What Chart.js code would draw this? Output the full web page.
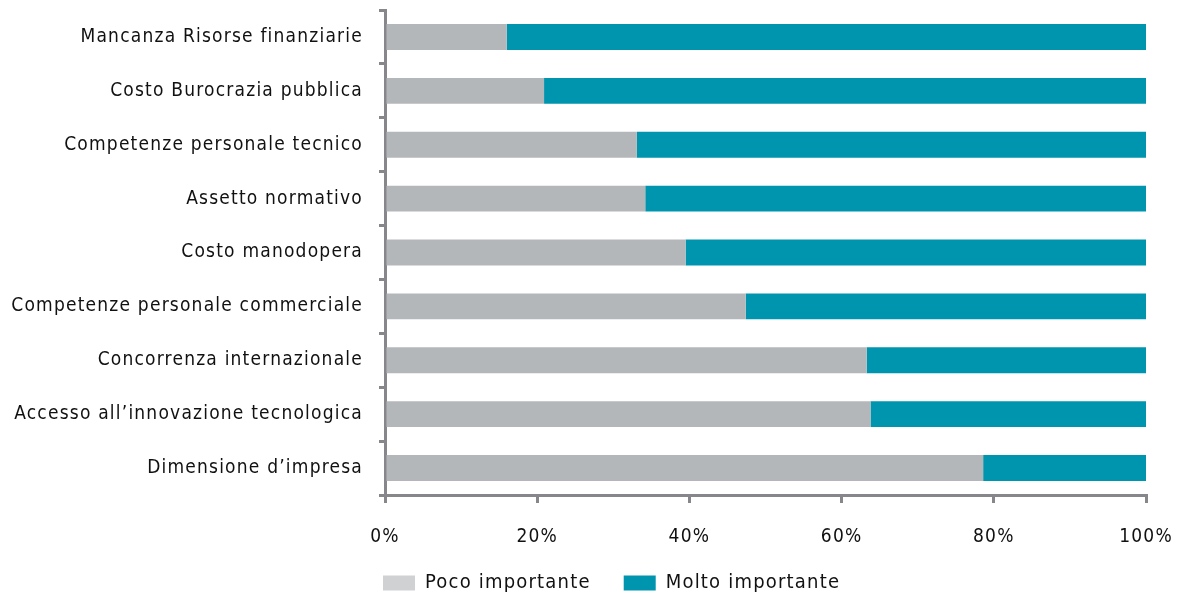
<!DOCTYPE html>
<html>
<head>
<meta charset="utf-8">
<script src="https://cdn.jsdelivr.net/npm/chart.js@4"></script>
<style>
  html, body { margin: 0; padding: 0; background: #ffffff; }
  #wrap { width: 1181px; height: 600px; position: relative; }
</style>
</head>
<body>
<div id="wrap"><canvas id="chart"></canvas></div>
<script>
// Fattori di ostacolo: quota di imprese che li giudicano poco o molto importanti (%)
const categories = [
  "Mancanza Risorse finanziarie",
  "Costo Burocrazia pubblica",
  "Competenze personale tecnico",
  "Assetto normativo",
  "Costo manodopera",
  "Competenze personale commerciale",
  "Concorrenza internazionale",
  "Accesso all\u2019innovazione tecnologica",
  "Dimensione d\u2019impresa"
];
const pocoImportante  = [16.0, 20.9, 33.1, 34.2, 39.5, 47.4, 63.3, 63.8, 78.6];
const moltoImportante = [84.0, 79.1, 66.9, 65.8, 60.5, 52.6, 36.7, 36.2, 21.4];
const xTicks = [0, 20, 40, 60, 80, 100];

const AXIS = '#86868b';
const FAMILY = "'DejaVu Sans Condensed', 'DejaVu Sans', sans-serif";
const FONT = { family: FAMILY, size: 19 };
const LEGEND_FONT = { family: FAMILY, size: 20 };

// wide tracking for all canvas text
const tracking = {
  id: 'tracking',
  beforeLayout(chart) { chart.ctx.letterSpacing = '1.2px'; },
  beforeDraw(chart) { chart.ctx.letterSpacing = '1.2px'; }
};

// legend row: starts under the value axis origin, sits 88px below the plot
const legendShift = {
  id: 'legendShift',
  afterLayout(chart) {
    const lg = chart.legend;
    const w = lg.right - lg.left;
    const h = lg.bottom - lg.top;
    lg.left = chart.chartArea.left - 35;
    lg.right = lg.left + w;
    lg.top = chart.chartArea.bottom + 88 - 33 - 10;
    lg.bottom = lg.top + h;
  }
};

new Chart(document.getElementById('chart'), {
  type: 'bar',
  data: {
    labels: categories,
    datasets: [
      { label: 'Poco importante', data: pocoImportante, backgroundColor: '#b4b7ba', borderWidth: 0 },
      { label: 'Molto importante', data: moltoImportante, backgroundColor: '#0095ae', borderWidth: 0 }
    ]
  },
  options: {
    indexAxis: 'y',
    responsive: true,
    maintainAspectRatio: false,
    animation: false,
    layout: { padding: { top: 10, right: 35, bottom: -15, left: 0 } },
    datasets: { bar: { categoryPercentage: 0.96, barPercentage: 0.5 } },
    scales: {
      x: {
        stacked: true,
        min: 0, max: 100,
        afterBuildTicks(axis) { axis.ticks = xTicks.map(v => ({ value: v })); },
        afterFit(axis) { axis.height = 57; axis.paddingLeft = 0; axis.paddingRight = 0; },
        ticks: { callback: v => v + '%', color: '#111', font: FONT, padding: 23, maxRotation: 0 },
        grid: { drawOnChartArea: false, drawTicks: true, tickLength: 8, color: AXIS, lineWidth: 3 },
        border: { display: true, color: AXIS, width: 3 }
      },
      y: {
        stacked: true,
        afterFit(axis) { axis.width = 385; axis.paddingTop = 0; axis.paddingBottom = 0; },
        ticks: { color: '#111', font: FONT, padding: 16 },
        grid: { drawOnChartArea: false, drawTicks: true, tickLength: 6, color: AXIS, lineWidth: 3, offset: true },
        border: { display: true, color: AXIS, width: 3 }
      }
    },
    plugins: {
      legend: {
        position: 'bottom',
        align: 'start',
        labels: {
          color: '#111',
          font: LEGEND_FONT,
          boxWidth: 32,
          boxHeight: 15,
          padding: 33,
          generateLabels(chart) {
            const items = Chart.defaults.plugins.legend.labels.generateLabels(chart);
            items[0].fillStyle = '#d0d1d3';
            items.forEach(it => { it.strokeStyle = 'rgba(0,0,0,0)'; it.lineWidth = 0; });
            return items;
          }
        }
      },
      tooltip: { enabled: false }
    }
  },
  plugins: [tracking, legendShift]
});
</script>
</body>
</html>
